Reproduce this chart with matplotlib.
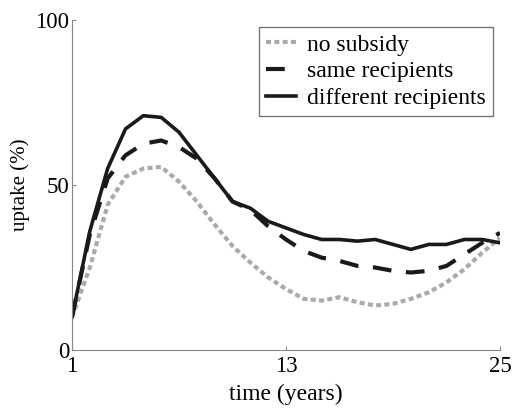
import matplotlib.pyplot as plt

years = list(range(1, 26))
no_subsidy = [10, 25, 44, 52.5, 55, 55.5, 51, 45, 38, 31.5, 26.5, 22, 18.5,
              15.5, 15, 16, 14.5, 13.5, 14, 15.5, 17.5, 20.5, 24.5, 29.5, 34]
same_recipients = [10, 35, 52, 59, 62.5, 63.5, 61.5, 58, 52, 45, 42.5, 37.5, 33.5,
                   30, 28, 27, 25.5, 25, 24, 23.5, 24, 25.5, 29, 32.5, 35.5]
different_recipients = [10, 36, 55, 67, 71, 70.5, 66, 59, 52, 45, 43, 39, 37,
                        35, 33.5, 33.5, 33, 33.5, 32, 30.5, 32, 32, 33.5, 33.5, 32.5]
xticks = [1, 13, 25]
yticks = [0, 50, 100]


def main():
    plt.rcParams['font.family'] = ['Liberation Serif', 'DejaVu Serif']
    fig = plt.figure(figsize=(5.12, 4.08), dpi=100)
    ax = fig.add_axes([0.1406, 0.142, 0.836, 0.809])

    ax.plot(years, no_subsidy, color='#aaaaaa', lw=3, linestyle=(0, (1.2, 0.8)),
            label='no subsidy')
    ax.plot(years, same_recipients, color='#1a1a1a', lw=3, linestyle=(0, (4.5, 3.5)),
            label='same recipients')
    ax.plot(years, different_recipients, color='#1a1a1a', lw=2.6,
            label='different recipients')

    ax.set_xlim(1, 25)
    ax.set_ylim(0, 100)
    ax.set_xticks(xticks)
    ax.set_yticks(yticks)
    ax.tick_params(direction='in', length=3, color='#888888', labelsize=16.5)
    ax.tick_params(axis='x', pad=4)
    ax.tick_params(axis='y', pad=2)
    for s in ['top', 'right']:
        ax.spines[s].set_visible(False)
    for s in ['left', 'bottom']:
        ax.spines[s].set_color('#888888')
    ax.set_xlabel('time (years)', fontsize=17, labelpad=5)
    ax.set_ylabel('uptake (%)', fontsize=15, labelpad=4)

    leg = ax.legend(loc='upper right', fontsize=17, frameon=True, fancybox=False,
                    edgecolor='#555555', handlelength=1.3, borderpad=0.3,
                    labelspacing=0.22, handletextpad=0.45, borderaxespad=0.3)
    leg.get_frame().set_linewidth(1.0)

    fig.savefig('out.png', dpi=100)


if __name__ == "__main__":
    main()
